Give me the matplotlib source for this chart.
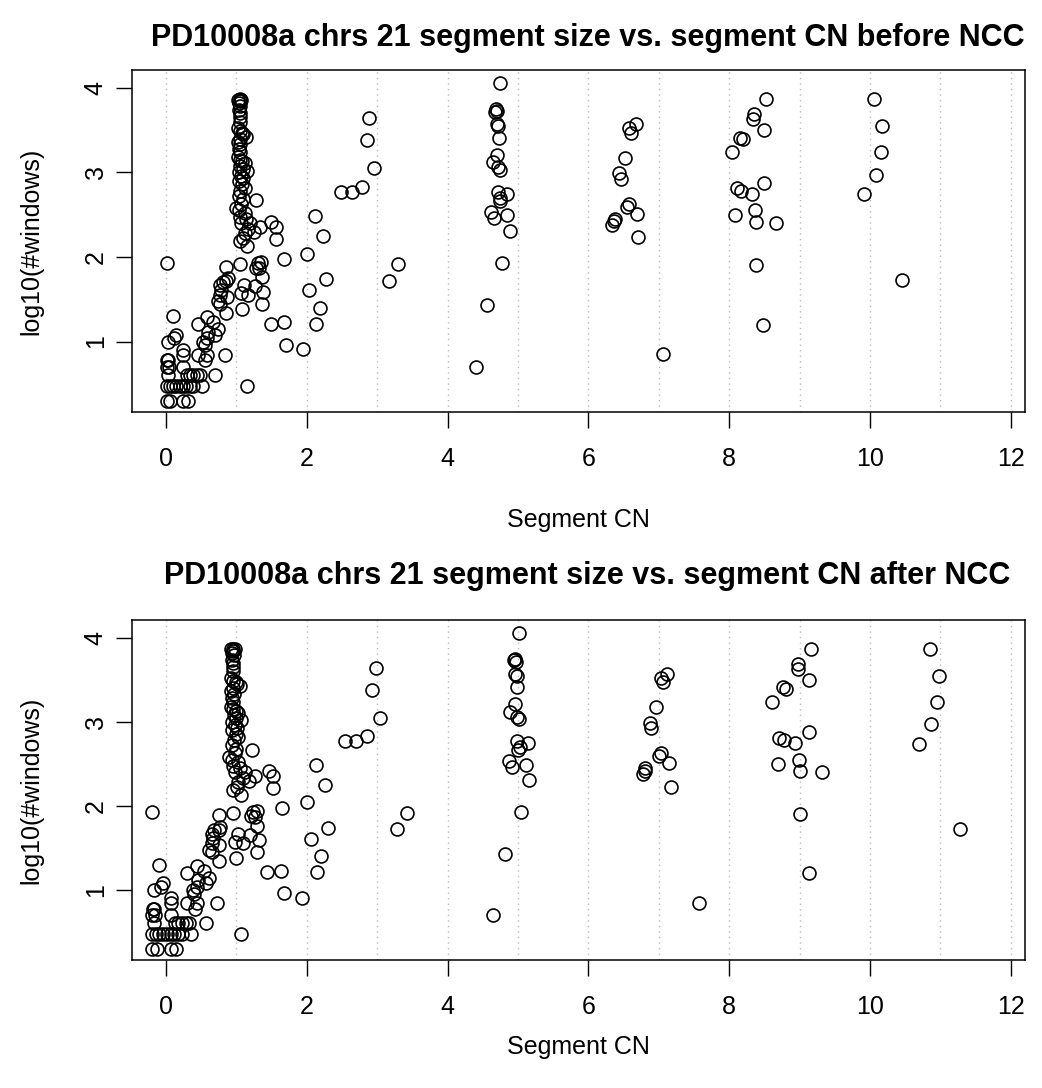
import numpy as np
import matplotlib
matplotlib.use("Agg")
import matplotlib.pyplot as plt

plt.rcParams['font.family'] = ['Liberation Sans', 'DejaVu Sans']

sample = 'PD10008a'
chrom = '21'

# segment CN before / after NCC, and log10(#windows) per segment (same segments)
cn_before = [
    # low CN cluster
    0.01, 0.06, 0.25, 0.32,
    0.01, 0.06, 0.10, 0.15, 0.20, 0.25, 0.29, 0.34, 0.39, 0.51, 1.15,
    0.03, 0.30, 0.34, 0.39, 0.44, 0.48, 0.70,
    0.01, 0.04, 0.25, 0.02, 0.03, 0.56,
    0.25, 0.46, 0.58, 0.84, 0.25,
    0.03, 0.53, 0.55, 0.12, 0.15, 0.58, 0.70, 0.60, 0.74, 0.46, 0.67, 0.10, 0.58, 0.86,
    # diagonal up to CN 1
    0.74, 0.77, 0.77, 0.87, 0.79, 0.77, 0.81, 0.86, 0.88, 0.86,
    1.05, 1.08, 1.07, 1.11, 1.17, 1.26, 1.36, 1.38, 1.36, 1.28, 1.31, 1.33, 1.35,
    # CN 1 column
    1.05, 1.03, 1.07, 1.05, 1.04, 1.06, 1.04, 1.05, 1.05, 1.05, 1.03, 1.05, 1.08, 1.10,
    1.14, 1.05, 1.03, 1.06, 1.04, 1.05, 1.03, 1.05, 1.08, 1.12, 1.06, 1.09, 1.15, 1.04,
    1.07, 1.10, 1.04, 1.08, 1.12, 1.06, 1.04, 1.09, 1.28, 1.07, 1.00, 1.04, 1.12, 1.05,
    1.14, 1.07, 1.20, 1.34, 1.17, 1.25, 1.12, 1.10, 1.05, 1.15, 1.50, 1.57, 1.57,
    # CN 2-3
    2.89, 2.85, 2.95, 2.78, 2.64, 2.49, 2.12, 2.23, 2.00, 1.68, 3.30, 3.17, 2.27, 2.04,
    2.19, 2.13, 1.95, 1.71, 1.68, 1.49, 0.01,
    # CN ~4.7
    4.75, 4.69, 4.70, 4.67, 4.70, 4.72, 4.73, 4.70, 4.64, 4.72, 4.74, 4.72, 4.85, 4.75,
    4.74, 4.62, 4.66, 4.85, 4.89, 4.77, 4.56, 4.40,
    # CN ~6.5
    6.67, 6.58, 6.60, 6.52, 6.43, 6.46, 6.58, 6.55, 6.69, 6.38, 6.37, 6.34, 6.71, 7.06,
    # CN ~8.3
    8.52, 8.35, 8.34, 8.50, 8.15, 8.19, 8.04, 8.49, 8.11, 8.17, 8.32, 8.08, 8.37, 8.38,
    8.67, 8.38, 8.48,
    # CN ~10
    10.06, 10.17, 10.15, 10.08, 9.92, 10.45,
]

cn_after = [
    -0.19, -0.13, 0.08, 0.15,
    -0.19, -0.14, -0.09, -0.04, 0.02, 0.08, 0.12, 0.17, 0.23, 0.36, 1.07,
    -0.17, 0.13, 0.17, 0.23, 0.28, 0.33, 0.57,
    -0.19, -0.16, 0.08, -0.18, -0.17, 0.42,
    0.08, 0.30, 0.44, 0.72, 0.08,
    -0.17, 0.38, 0.40, -0.07, -0.04, 0.44, 0.57, 0.46, 0.61, 0.30, 0.54, -0.09, 0.44, 0.75,
    0.61, 0.65, 0.65, 0.76, 0.67, 0.65, 0.69, 0.75, 0.77, 0.75,
    0.96, 0.99, 0.98, 1.02, 1.09, 1.19, 1.30, 1.32, 1.30, 1.21, 1.24, 1.26, 1.29,
    0.96, 0.93, 0.98, 0.96, 0.94, 0.97, 0.94, 0.96, 0.96, 0.96, 0.93, 0.96, 0.99, 1.01,
    1.05, 0.96, 0.93, 0.97, 0.94, 0.96, 0.93, 0.96, 0.99, 1.03, 0.97, 1.00, 1.07, 0.94,
    0.98, 1.01, 0.94, 0.99, 1.03, 0.97, 0.94, 1.00, 1.22, 0.98, 0.90, 0.94, 1.03, 0.96,
    1.05, 0.98, 1.12, 1.27, 1.09, 1.18, 1.03, 1.01, 0.96, 1.07, 1.46, 1.52, 1.52,
    2.98, 2.93, 3.04, 2.86, 2.70, 2.54, 2.13, 2.26, 2.01, 1.65, 3.42, 3.28, 2.30, 2.06,
    2.21, 2.15, 1.94, 1.68, 1.64, 1.44, -0.19,
    5.02, 4.96, 4.94, 4.97, 4.96, 4.98, 4.99, 4.96, 4.89, 4.99, 5.02, 4.99, 5.14, 5.03,
    5.00, 4.87, 4.92, 5.12, 5.16, 5.04, 4.82, 4.64,
    7.12, 7.03, 7.06, 6.96, 6.87, 6.89, 7.03, 7.01, 7.14, 6.80, 6.80, 6.77, 7.17, 7.57,
    9.16, 8.98, 8.97, 9.14, 8.76, 8.81, 8.61, 9.13, 8.71, 8.78, 8.94, 8.69, 8.99, 9.00,
    9.32, 9.00, 9.13,
    10.85, 10.98, 10.95, 10.87, 10.70, 11.28,
]

log_windows = [
    0.301, 0.301, 0.301, 0.301,
    0.477, 0.477, 0.477, 0.477, 0.477, 0.477, 0.477, 0.477, 0.477, 0.477, 0.477,
    0.602, 0.602, 0.602, 0.602, 0.602, 0.602, 0.602,
    0.699, 0.699, 0.699, 0.778, 0.778, 0.778,
    0.845, 0.845, 0.845, 0.845, 0.903,
    1.000, 1.000, 0.954, 1.041, 1.079, 1.041, 1.079, 1.114, 1.146, 1.204, 1.230, 1.301, 1.290, 1.342,
    1.477, 1.447, 1.556, 1.531, 1.613, 1.663, 1.708, 1.716, 1.748, 1.886,
    1.914, 1.380, 1.568, 1.663, 1.556, 1.653, 1.763, 1.591, 1.447, 1.875, 1.924, 1.869, 1.944,
    3.87, 3.86, 3.86, 3.84, 3.82, 3.79, 3.74, 3.70, 3.65, 3.60, 3.52, 3.49, 3.47, 3.45,
    3.42, 3.40, 3.36, 3.33, 3.28, 3.24, 3.18, 3.15, 3.13, 3.11, 3.08, 3.04, 3.02, 3.00,
    2.96, 2.93, 2.90, 2.86, 2.82, 2.78, 2.72, 2.68, 2.67, 2.63, 2.58, 2.55, 2.52, 2.47,
    2.45, 2.40, 2.40, 2.35, 2.33, 2.30, 2.28, 2.22, 2.19, 2.13, 2.41, 2.35, 2.21,
    3.64, 3.38, 3.05, 2.83, 2.77, 2.77, 2.48, 2.25, 2.04, 1.97, 1.92, 1.72, 1.74, 1.61,
    1.40, 1.21, 0.91, 0.96, 1.23, 1.21, 1.93,
    4.06, 3.75, 3.73, 3.71, 3.57, 3.55, 3.41, 3.21, 3.12, 3.06, 3.03, 2.77, 2.75, 2.70,
    2.66, 2.53, 2.46, 2.49, 2.31, 1.93, 1.43, 0.70,
    3.57, 3.52, 3.47, 3.17, 2.99, 2.92, 2.63, 2.59, 2.51, 2.45, 2.42, 2.38, 2.23, 0.85,
    3.87, 3.69, 3.63, 3.50, 3.41, 3.39, 3.24, 2.88, 2.81, 2.78, 2.75, 2.50, 2.55, 2.41,
    2.40, 1.90, 1.20,
    3.87, 3.55, 3.24, 2.97, 2.74, 1.73,
]

x_ticks = [0, 2, 4, 6, 8, 10, 12]
y_ticks = [1, 2, 3, 4]
grid_x = list(range(0, 13))

W, H = 1042, 1088
fig = plt.figure(figsize=(W / 100, H / 100), dpi=100)

panels = [
    (cn_before, 'before', [132 / W, 1 - 412 / H, 893 / W, 342 / H], 17, 26),
    (cn_after, 'after', [132 / W, 1 - 960 / H, 893 / W, 340 / H], 26, 11),
]

for xs, when, rect, tpad, xpad in panels:
    ax = fig.add_axes(rect)
    for g in grid_x:
        ax.axvline(g, color='#bbbbbb', lw=1.0, ls=(0, (1, 3)), zorder=0)
    ax.plot(xs, log_windows, 'o', mfc='none', mec='black', ms=9.3, mew=1.2, zorder=2)
    ax.set_xlim(-0.48, 12.2)
    ax.set_ylim(0.167, 4.21)
    ax.set_xticks(x_ticks)
    ax.set_yticks(y_ticks)
    ax.tick_params(axis='x', length=11.5, width=1, pad=14, labelsize=18)
    ax.tick_params(axis='y', length=11.5, width=1, pad=6, labelsize=18)
    for lab in ax.get_yticklabels():
        lab.set_rotation(90)
        lab.set_va('center')
    for s in ax.spines.values():
        s.set_linewidth(1.1)
    ax.set_xlabel('Segment CN', fontsize=18, labelpad=xpad)
    ax.set_ylabel('log10(#windows)', fontsize=18, labelpad=29)
    ax.set_title(f'{sample} chrs {chrom} segment size vs. segment CN {when} NCC',
                 fontsize=22, fontweight='bold', pad=tpad, x=0.51)

fig.savefig('out.png', dpi=100)
